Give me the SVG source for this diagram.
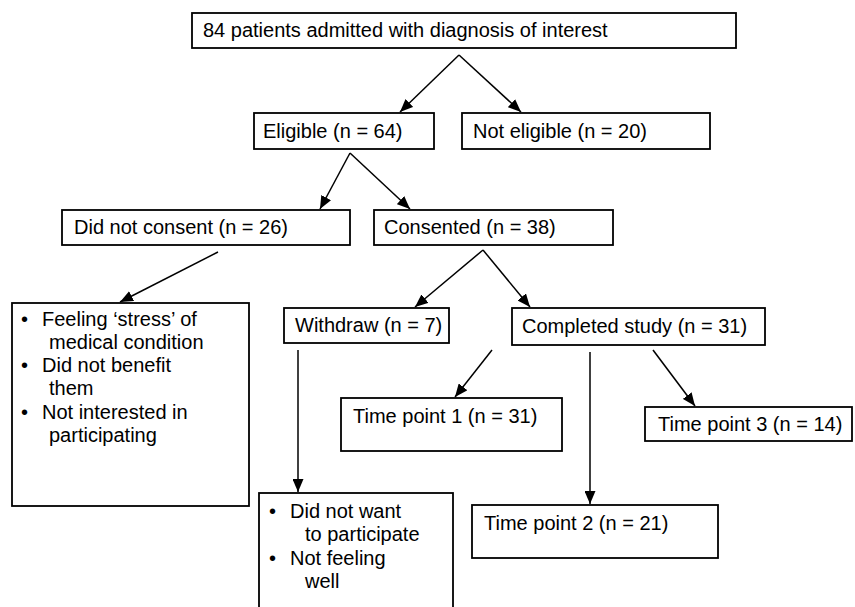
<svg xmlns="http://www.w3.org/2000/svg" width="855" height="607" viewBox="0 0 855 607">
<style>
.box{fill:#fff;stroke:#000;stroke-width:1.8}
.t{font-family:"Liberation Sans",Arial,sans-serif;font-size:20px;fill:#000}
.c{stroke:#000;stroke-width:1.5;fill:none;marker-end:url(#ah)}
</style>
<defs>
<marker id="ah" viewBox="0 0 13 11" refX="13" refY="5.5" markerWidth="13" markerHeight="11" markerUnits="userSpaceOnUse" orient="auto">
<path d="M0,0 L13,5.5 L0,11 Z" fill="#000"/>
</marker>
</defs>
<rect width="855" height="607" fill="#fff"/>
<g id="connectors">
<line class="c" x1="459" y1="55" x2="400" y2="112"/>
<line class="c" x1="459" y1="55" x2="521" y2="112"/>
<line class="c" x1="350" y1="153" x2="320" y2="209"/>
<line class="c" x1="350" y1="153" x2="410" y2="209"/>
<line class="c" x1="218" y1="252" x2="120" y2="302"/>
<line class="c" x1="483" y1="250" x2="415" y2="307"/>
<line class="c" x1="483" y1="250" x2="530" y2="307"/>
<line class="c" x1="298" y1="350" x2="298" y2="492"/>
<line class="c" x1="492" y1="350" x2="455" y2="397"/>
<line class="c" x1="590" y1="352" x2="590" y2="504"/>
<line class="c" x1="653" y1="350" x2="695" y2="406"/>
</g>
<g id="n-top"><rect class="box" x="192" y="13" width="544" height="35"/><text class="t" x="203" y="37">84 patients admitted with diagnosis of interest</text></g>
<g id="n-eligible"><rect class="box" x="254" y="113" width="180" height="36"/><text class="t" x="263" y="138">Eligible (n = 64)</text></g>
<g id="n-noteligible"><rect class="box" x="462" y="113" width="248" height="36"/><text class="t" x="473" y="138">Not eligible (n = 20)</text></g>
<g id="n-didnotconsent"><rect class="box" x="62" y="210" width="288" height="35"/><text class="t" x="74" y="234">Did not consent (n = 26)</text></g>
<g id="n-consented"><rect class="box" x="374" y="210" width="239" height="35"/><text class="t" x="384" y="234">Consented (n = 38)</text></g>
<g id="n-reasons1"><rect class="box" x="12" y="303" width="237" height="203"/>
<text class="t" x="21" y="326">•</text><text class="t" x="42" y="326">Feeling ‘stress’ of</text>
<text class="t" x="49" y="349">medical condition</text>
<text class="t" x="21" y="372">•</text><text class="t" x="42" y="372">Did not benefit</text>
<text class="t" x="49" y="395">them</text>
<text class="t" x="21" y="419">•</text><text class="t" x="42" y="419">Not interested in</text>
<text class="t" x="49" y="442">participating</text>
</g>
<g id="n-withdraw"><rect class="box" x="284" y="308" width="165" height="35"/><text class="t" x="295" y="332">Withdraw (n = 7)</text></g>
<g id="n-completed"><rect class="box" x="512" y="308" width="253" height="37"/><text class="t" x="522" y="333">Completed study (n = 31)</text></g>
<g id="n-tp1"><rect class="box" x="341" y="398" width="221" height="53"/><text class="t" x="353" y="423">Time point 1 (n = 31)</text></g>
<g id="n-tp3"><rect class="box" x="645" y="407" width="207" height="34"/><text class="t" x="658" y="431">Time point 3 (n = 14)</text></g>
<g id="n-tp2"><rect class="box" x="472" y="505" width="246" height="53"/><text class="t" x="484" y="530">Time point 2 (n = 21)</text></g>
<g id="n-reasons2"><rect class="box" x="259" y="493" width="194" height="120"/>
<text class="t" x="269" y="518">•</text><text class="t" x="290" y="518">Did not want</text>
<text class="t" x="305" y="541">to participate</text>
<text class="t" x="269" y="565">•</text><text class="t" x="290" y="565">Not feeling</text>
<text class="t" x="305" y="588">well</text>
</g>
</svg>
